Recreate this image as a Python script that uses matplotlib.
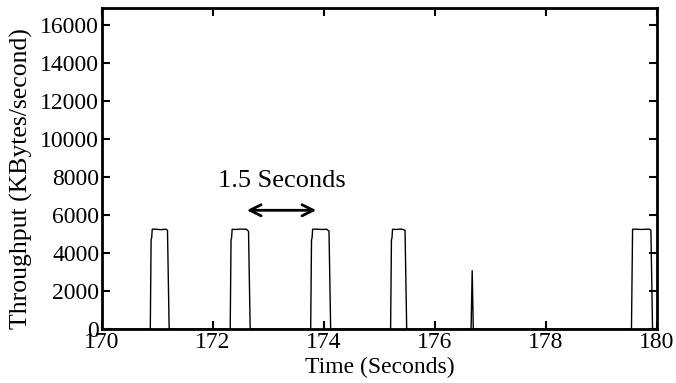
import matplotlib
matplotlib.use("Agg")
import matplotlib.pyplot as plt

plt.rcParams['font.family'] = ['Liberation Serif', 'DejaVu Serif']

# Throughput trace (time in seconds, KBytes/second)
time_s = [170.00, 170.87, 170.885, 170.895, 170.905, 170.95, 171.05, 171.15, 171.18, 171.21, 171.22,
          172.31, 172.325, 172.335, 172.345, 172.40, 172.50, 172.60, 172.64, 172.67, 172.68,
          173.76, 173.775, 173.785, 173.795, 173.85, 173.95, 174.05, 174.09, 174.12, 174.13,
          175.20, 175.215, 175.225, 175.235, 175.30, 175.40, 175.46, 175.49, 175.50,
          176.65, 176.67, 176.69,
          179.54, 179.56, 179.60, 179.70, 179.80, 179.86, 179.89, 179.92, 179.93, 180.00]
thru_kb = [0, 0, 4700, 4800, 5250, 5260, 5230, 5250, 5200, 0, 0,
           0, 4700, 4800, 5250, 5240, 5260, 5250, 5150, 0, 0,
           0, 4700, 4800, 5250, 5260, 5240, 5250, 5150, 0, 0,
           0, 4700, 4800, 5250, 5240, 5260, 5200, 0, 0,
           0, 3070, 0,
           0, 5250, 5260, 5240, 5250, 5260, 5200, 0, 0, 0]

xticks = [170, 172, 174, 176, 178, 180]
yticks = [0, 2000, 4000, 6000, 8000, 10000, 12000, 14000, 16000]

fig = plt.figure(figsize=(6.76, 3.83), dpi=100)
ax = fig.add_axes([102/676, 1 - 329/383, (657-102)/676, (329-8)/383])
ax.plot(time_s, thru_kb, color='black', lw=1.0)

ax.set_xlim(170, 180)
ax.set_ylim(0, 16900)
ax.set_xticks(xticks)
ax.set_yticks(yticks)
ax.tick_params(direction='in', top=True, right=True, labelsize=17, width=1.5, length=6, pad=2)
for s in ax.spines.values():
    s.set_linewidth(2)
ax.set_xlabel('Time (Seconds)', fontsize=17, labelpad=3)
ax.set_ylabel('Throughput (KBytes/second)', fontsize=18.5)
ax.yaxis.set_label_coords(-0.125, 0.47)

ax.annotate('', xy=(172.56, 6250), xytext=(173.91, 6250),
            arrowprops=dict(arrowstyle='<->', color='black', lw=2, mutation_scale=20))
ax.text(173.24, 7800, '1.5 Seconds', fontsize=19, ha='center', va='center')

fig.savefig('out.png', dpi=100)
